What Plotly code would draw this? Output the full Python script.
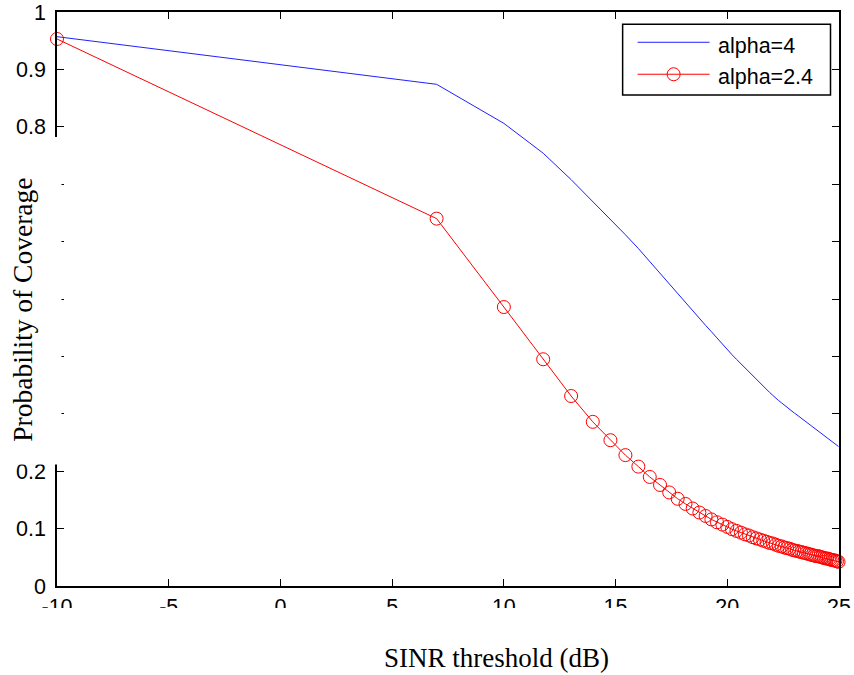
import plotly.graph_objects as go

# ---------------- data ----------------
sinr_db = [-10, 6.99, 10.00, 11.76, 13.01, 13.98, 14.77, 15.44, 16.02, 16.53,
           16.99, 17.40, 17.78, 18.13, 18.45, 18.75, 19.03, 19.29, 19.54, 19.78,
           20.00, 20.21, 20.41, 20.61, 20.79, 20.97, 21.14, 21.30, 21.46, 21.61,
           21.76, 21.90, 22.04, 22.17, 22.30, 22.43, 22.55, 22.67, 22.79, 22.90,
           23.01, 23.12, 23.22, 23.32, 23.42, 23.52, 23.62, 23.71, 23.80, 23.89,
           23.98, 24.07, 24.15, 24.23, 24.31, 24.39, 24.47, 24.55, 24.62, 24.70,
           24.77, 24.84, 24.91, 24.98]

p_alpha4 = [0.957, 0.874, 0.806, 0.754, 0.708, 0.670, 0.638, 0.612, 0.588, 0.565,
            0.545, 0.527, 0.510, 0.494, 0.479, 0.466, 0.454, 0.443, 0.432, 0.421,
            0.411, 0.403, 0.395, 0.387, 0.380, 0.373, 0.367, 0.360, 0.354, 0.348,
            0.342, 0.337, 0.332, 0.327, 0.323, 0.319, 0.315, 0.311, 0.307, 0.304,
            0.301, 0.298, 0.295, 0.292, 0.289, 0.286, 0.283, 0.280, 0.278, 0.275,
            0.272, 0.270, 0.267, 0.265, 0.262, 0.260, 0.258, 0.255, 0.253, 0.251,
            0.249, 0.247, 0.245, 0.243]

p_alpha24 = [0.953, 0.640, 0.486, 0.395, 0.331, 0.286, 0.254, 0.228, 0.208, 0.190,
             0.176, 0.163, 0.152, 0.143, 0.135, 0.128, 0.122, 0.116, 0.111, 0.107,
             0.103, 0.099, 0.096, 0.093, 0.090, 0.088, 0.085, 0.083, 0.081, 0.079,
             0.077, 0.075, 0.074, 0.072, 0.070, 0.069, 0.067, 0.066, 0.065, 0.063,
             0.062, 0.061, 0.060, 0.059, 0.058, 0.057, 0.056, 0.055, 0.054, 0.053,
             0.052, 0.052, 0.051, 0.050, 0.049, 0.048, 0.048, 0.047, 0.046, 0.045,
             0.045, 0.044, 0.043, 0.042]

series_names = ["alpha=4", "alpha=2.4"]
x_tick_vals = [-10, -5, 0, 5, 10, 15, 20, 25]
x_tick_text = ["-10", "-5", "0", "5", "10", "15", "20", "25"]
y_tick_vals = [0, 0.1, 0.2, 0.3, 0.4, 0.5, 0.6, 0.7, 0.8, 0.9, 1.0]
y_tick_text = ["0", "0.1", "0.2", "0.3", "0.4", "0.5", "0.6", "0.7", "0.8", "0.9", "1"]
x_title = "SINR threshold (dB)"
y_title = "Probability of Coverage"

# ---------------- layout geometry (pixels) ----------------
W, H = 854, 675
L, R, T, B = 57, 14.5, 12, 88.5
PW, PH = W - L - R, H - T - B


def fx(p):  # pixel x -> paper x
    return (p - L) / PW


def fy(p):  # pixel y -> paper y
    return (H - B - p) / PH


BLUE = "#2020ff"
RED = "#ff0000"

fig = go.Figure()
fig.add_trace(go.Scatter(x=sinr_db, y=p_alpha4, mode="lines", name=series_names[0],
                         line=dict(color=BLUE, width=1), cliponaxis=False))
fig.add_trace(go.Scatter(x=sinr_db, y=p_alpha24, mode="lines+markers", name=series_names[1],
                         line=dict(color=RED, width=1),
                         marker=dict(symbol="circle-open", size=13, color=RED,
                                     line=dict(width=1, color=RED)),
                         cliponaxis=False))

tick_font = dict(family="Liberation Sans, Arial, sans-serif", size=21.5, color="black")
axis_common = dict(showline=True, linecolor="black", linewidth=1.6, mirror="ticks",
                   ticks="inside", ticklen=7, tickwidth=1, tickcolor="black",
                   showgrid=False, zeroline=False, tickfont=tick_font,
                   automargin=False)

fig.update_layout(
    template="none",
    width=W, height=H,
    margin=dict(l=L, r=R, t=T, b=B, pad=0),
    paper_bgcolor="white", plot_bgcolor="white",
    showlegend=False,
    xaxis=dict(range=[-10, 25], tickmode="array", tickvals=x_tick_vals,
               ticktext=x_tick_text, ticklabelstandoff=0, **axis_common),
    yaxis=dict(range=[0, 1], tickmode="array", tickvals=y_tick_vals,
               ticktext=y_tick_text, ticklabelstandoff=5, **axis_common),
)

shapes = []
# white box behind the y label (hides part of axis & labels as in the original)
shapes.append(dict(type="rect", xref="paper", yref="paper", layer="above",
                   x0=fx(-5), x1=fx(61.5), y0=fy(465), y1=fy(137),
                   fillcolor="white", line=dict(width=0)))
# white box behind the x label (clips the tick labels)
shapes.append(dict(type="rect", xref="paper", yref="paper", layer="above",
                   x0=fx(-5), x1=fx(W + 5), y0=fy(H + 5), y1=fy(608.5),
                   fillcolor="white", line=dict(width=0)))
# legend box
shapes.append(dict(type="rect", xref="paper", yref="paper", layer="above",
                   x0=fx(623), x1=fx(831), y0=fy(95), y1=fy(24.3),
                   fillcolor="white", line=dict(width=1.5, color="black")))
# legend line samples
shapes.append(dict(type="line", xref="paper", yref="paper", layer="above",
                   x0=fx(638), x1=fx(710), y0=fy(42.3), y1=fy(42.3),
                   line=dict(width=1, color=BLUE)))
shapes.append(dict(type="line", xref="paper", yref="paper", layer="above",
                   x0=fx(638), x1=fx(710), y0=fy(74.3), y1=fy(74.3),
                   line=dict(width=1, color=RED)))
shapes.append(dict(type="circle", xref="paper", yref="paper", layer="above",
                   xsizemode="pixel", ysizemode="pixel",
                   xanchor=fx(674), yanchor=fy(74.3),
                   x0=-6.5, x1=6.5, y0=-6.5, y1=6.5,
                   fillcolor="rgba(0,0,0,0)", line=dict(width=1, color=RED)))
fig.update_layout(shapes=shapes)

annotations = [
    dict(text=series_names[0], xref="paper", yref="paper", x=fx(716), y=fy(46.5),
         xanchor="left", yanchor="middle", showarrow=False, font=tick_font),
    dict(text=series_names[1], xref="paper", yref="paper", x=fx(716), y=fy(77.5),
         xanchor="left", yanchor="middle", showarrow=False, font=tick_font),
    dict(text=x_title, xref="paper", yref="paper", x=fx(496.5), y=fy(659),
         xanchor="center", yanchor="middle", showarrow=False,
         font=dict(family="Liberation Serif", size=27, color="black")),
    dict(text=y_title, xref="paper", yref="paper", x=fx(23), y=fy(310),
         xanchor="center", yanchor="middle", showarrow=False, textangle=-90,
         font=dict(family="Liberation Serif", size=27.5, color="black")),
]
fig.update_layout(annotations=annotations)

fig.write_html("out.html")
